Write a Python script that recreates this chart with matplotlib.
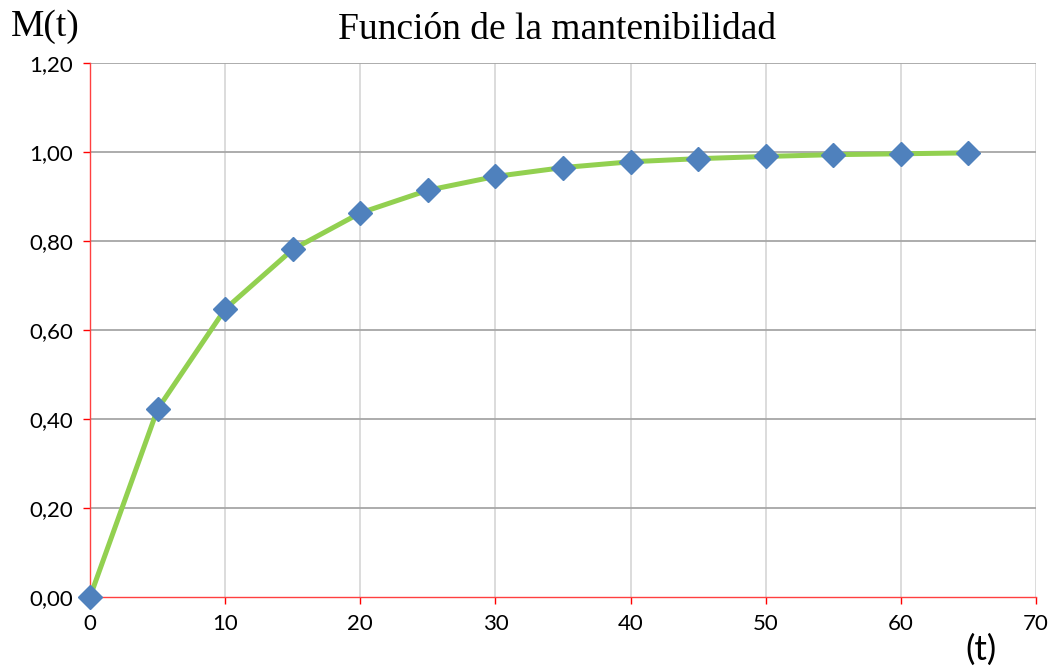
import matplotlib.pyplot as plt
from matplotlib.ticker import FuncFormatter, MultipleLocator

# data
t = [0, 5, 10, 15, 20, 25, 30, 35, 40, 45, 50, 55, 60, 65]
m = [0.0, 0.422, 0.647, 0.781, 0.863, 0.914, 0.945, 0.965, 0.978, 0.985, 0.990, 0.994, 0.996, 0.998]

title = "Función de la mantenibilidad"
y_label = "M(t)"
x_label = "(t)"

fig = plt.figure(figsize=(10.55, 6.68), dpi=100)
ax = fig.add_axes([0.0853, 0.1063, 0.8967, 0.7994])

ax.plot(t, m, color="#92d050", linewidth=3.6, zorder=3)
ax.plot(t, m, linestyle="none", marker="D", markersize=12,
        markerfacecolor="#4f81bd", markeredgecolor="#4f81bd", zorder=4, clip_on=False)

ax.set_xlim(0, 70)
ax.set_ylim(0, 1.2)
ax.xaxis.set_major_locator(MultipleLocator(10))
ax.yaxis.set_major_locator(MultipleLocator(0.2))
ax.yaxis.set_major_formatter(FuncFormatter(lambda v, p: f"{v:.2f}".replace(".", ",")))

# grid: horizontal darker, vertical lighter
for y in [0.2, 0.4, 0.6, 0.8, 1.0, 1.2]:
    ax.axhline(y, color="#a6a6a6", linewidth=1.3, zorder=1)
for x in [10, 20, 30, 40, 50, 60, 70]:
    ax.axvline(x, color="#d9d9d9", linewidth=1.3, zorder=0)

for s in ["top", "right"]:
    ax.spines[s].set_visible(False)
for s in ["left", "bottom"]:
    ax.spines[s].set_color("#ff4040")
    ax.spines[s].set_linewidth(1.0)
    ax.spines[s].set_zorder(2)

ax.tick_params(axis="both", colors="#ff0000", length=5, width=1.0,
               labelcolor="black", labelsize=16, direction="out")
for lab in ax.get_xticklabels() + ax.get_yticklabels():
    lab.set_family("Lato")
ax.tick_params(axis="x", pad=7)
ax.tick_params(axis="y", pad=7)

fig.text(0.528, 0.955, title, ha="center", va="center",
         family="Liberation Serif", fontsize=27)
fig.text(0.043, 0.96, y_label, ha="center", va="center",
         family="Liberation Serif", fontsize=27)
fig.text(0.93, 0.028, x_label, ha="center", va="center",
         family="Lato", fontsize=25)

fig.savefig("out.png", dpi=100)
